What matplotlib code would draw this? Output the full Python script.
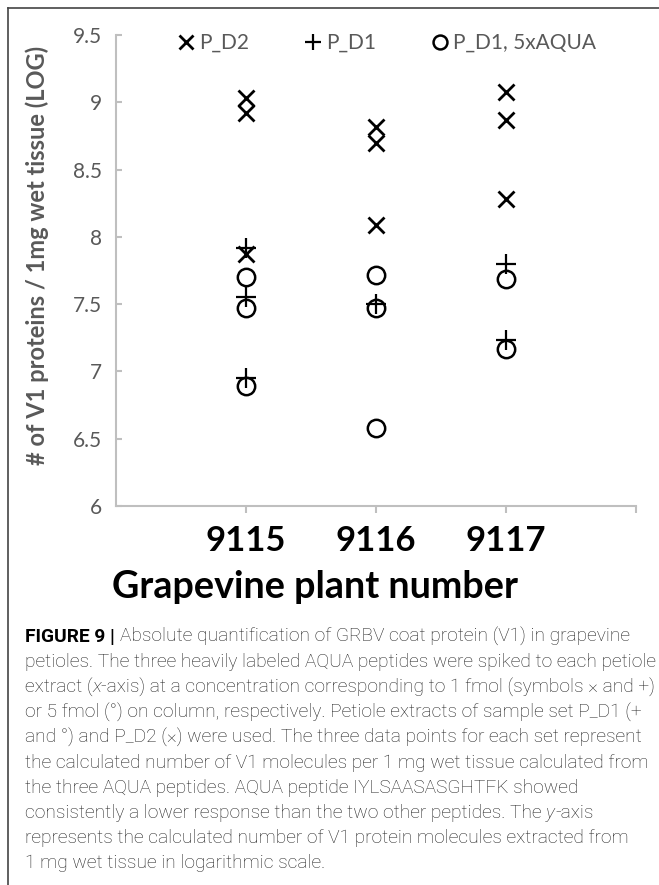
import matplotlib
matplotlib.use("Agg")
import matplotlib.pyplot as plt
from matplotlib.lines import Line2D

# values (log10 of V1 molecules per mg)
plants = ["9115", "9116", "9117"]
p_d2 = [[9.03, 8.92, 7.87], [8.82, 8.70, 8.09], [9.08, 8.87, 8.28]]
p_d1 = [[7.92, 7.55, 6.95], [7.50], [7.80, 7.23]]
p_d1_5x = [[7.70, 7.47, 6.89], [7.72, 7.47, 6.58], [7.69, 7.17]]
yticks = [6, 6.5, 7, 7.5, 8, 8.5, 9, 9.5]
ytick_labels = ["6", "6.5", "7", "7.5", "8", "8.5", "9", "9.5"]

caption = [
    [("FIGURE 9 | ", "b"), ("Absolute quantification of GRBV coat protein (V1) in grapevine", "n")],
    [("petioles. The three heavily labeled AQUA peptides were spiked to each petiole", "n")],
    [("extract (", "n"), ("x", "i"), ("-axis) at a concentration corresponding to 1 fmol (symbols \u00d7 and +)", "n")],
    [("or 5 fmol (\u00b0) on column, respectively. Petiole extracts of sample set P_D1 (+", "n")],
    [("and \u00b0) and P_D2 (\u00d7) were used. The three data points for each set represent", "n")],
    [("the calculated number of V1 molecules per 1 mg wet tissue calculated from", "n")],
    [("the three AQUA peptides. AQUA peptide IYLSAASASGHTFK showed", "n")],
    [("consistently a lower response than the two other peptides. The ", "n"), ("y", "i"), ("-axis", "n")],
    [("represents the calculated number of V1 protein molecules extracted from", "n")],
    [("1 mg wet tissue in logarithmic scale.", "n")],
]

W, H = 659, 885
fig = plt.figure(figsize=(W / 100, H / 100), dpi=100)
ax = fig.add_axes([116 / W, 1 - 506 / H, 520 / W, 471 / H])

def flat(groups):
    xs, ys = [], []
    for i, vals in enumerate(groups):
        for v in vals:
            xs.append(i + 1)
            ys.append(v)
    return xs, ys

x, y = flat(p_d2)
ax.plot(x, y, ls="none", marker="x", ms=12, mew=2, color="black", label="P_D2")
x, y = flat(p_d1)
ax.plot(x, y, ls="none", marker="+", ms=14, mew=1.6, color="black", label="P_D1")
x, y = flat(p_d1_5x)
ax.plot(x, y, ls="none", marker="o", ms=12.5, mew=1.8, mfc="none", color="black",
        label="P_D1, 5xAQUA")

ax.set_xlim(0, 4)
ax.set_ylim(6, 9.5)
ax.set_yticks(yticks)
ax.set_yticklabels(ytick_labels)
ax.set_xticks([1, 2, 3, 4])
ax.set_xticklabels(plants + [""])

for s in ["top", "right"]:
    ax.spines[s].set_visible(False)
for s in ["left", "bottom"]:
    ax.spines[s].set_color("#bfbfbf")
    ax.spines[s].set_linewidth(1.5)

ax.tick_params(axis="y", direction="in", length=4, width=1.5, color="#bfbfbf",
               labelcolor="#595959", labelsize=15, pad=10)
ax.tick_params(axis="x", direction="out", length=5, width=1.5, color="#bfbfbf",
               labelcolor="black", labelsize=25, pad=9)
for t in ax.get_yticklabels():
    t.set_family("Lato")
for t in ax.get_xticklabels():
    t.set_family("Lato")
    t.set_fontweight("bold")

leg = ax.legend(loc="center", bbox_to_anchor=(0.522, 0.983), ncol=3, frameon=False,
                handlelength=0.7, handletextpad=0.3, columnspacing=2.7, markerscale=0.8,
                prop={"family": "Lato", "size": 15})
for t in leg.get_texts():
    t.set_color("#595959")

fig.text(315 / W, 1 - 587 / H, "Grapevine plant number", ha="center", va="center",
         family="Lato", weight="bold", fontsize=27.2, color="black")
fig.text(37 / W, 1 - 255 / H, "# of V1 proteins / 1mg wet tissue (LOG)", ha="center",
         va="center", rotation=90, family="Lato", weight="bold", fontsize=17,
         color="#595959")

# caption box (top and left rules only inside the picture)
fig.add_artist(Line2D([8 / W, 1], [1 - 8 / H, 1 - 8 / H], color="#444444", lw=1.2))
fig.add_artist(Line2D([8 / W, 8 / W], [1 - 8 / H, 0], color="#444444", lw=1.2))

renderer = fig.canvas.get_renderer()
styles = {
    "n": dict(family="Roboto", weight="light", style="normal", color="#222222"),
    "i": dict(family="Roboto", weight="light", style="italic", color="#222222"),
    "b": dict(family="Roboto", weight="bold", style="normal", color="black"),
}
line_y = 637
for line in caption:
    px = 25
    for text, st in line:
        t = fig.text(px / W, 1 - line_y / H, text, ha="left", va="center",
                     fontsize=13.8, **styles[st])
        px += t.get_window_extent(renderer).width
    line_y += 25.1

fig.savefig("out.png", dpi=100)
